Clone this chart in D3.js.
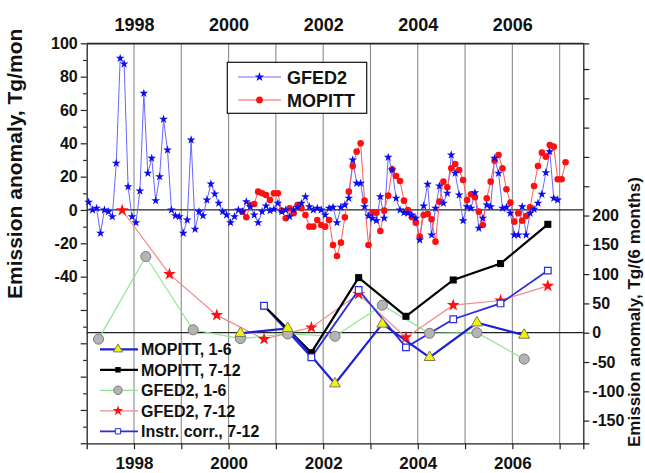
<!DOCTYPE html>
<html>
<head>
<meta charset="utf-8">
<script src="https://cdn.jsdelivr.net/npm/d3@7"></script>
<style>
  html, body { margin: 0; padding: 0; background: #fff; }
  svg { display: block; font-family: "Liberation Sans", Arial, sans-serif; }
</style>
</head>
<body>
<svg id="chart" width="645" height="473"></svg>
<script>
// Monthly emission anomalies, Tg/mon
const gfedStart = 1997;          // GFED2 monthly series starts Jan 1997
const gfedMonthly = [
  4.6, 0, 1, -14, 0, -1, -4, 28, 91, 87.6, 14, -4,
  -7.6, 11.4, 70, 22, 31, 5.6, 20, 54.4, 36, 0, -3.5, -4,
  -14, -6, 42, -11.6, -1, -3.5, 6, 15.6, 9.6, 4, -1, -3,
  -7.6, -4, 0, -1, 5, 2, -3, -7.6, -1, 2.4, -0.4, 0.4,
  4, -1, 0, -4, 0, 1.6, 4, 8, 2, 0, 1, 0,
  -3, 1, 1.6, -7.6, 1.6, 3, 7, 30, 16, 16, 2, -3.6,
  -5, -6.4, 8, -5, 31.6, 24, 7, 0, -1.6, -2, -3, -5,
  -18, 2.4, 15.4, -15, 1, 14.4, 4, 10, 33, 22, 9, -6.4,
  2, 1, 10.4, -11, -5, 3, 2, 31, 22, 1, 1.6, -2,
  -15, -15, 2, -15, -2, 0.4, 4, 9.4, 22.4, 35, 7, 6
];
const mopittStartMonth = 39;     // months after Jan 1997 (Apr 2000)
const mopittMonthly = [
  -1, -4.4, 3, 3.6, 11, 10, 9, 6, 10,
  10, -0.4, -5, 1, -2, 3, 1, -3, -10, -10, -6, -9,
  -10, -6, -21, -27.6, -19.6, -4.4, 11, 26.4, 35, 40, 5.6, -21,
  -1.6, -1.6, -12.6, -0.4, 8.6, 24.4, 20.4, 17.4, 5.6, 0, -4.4, -7.6,
  -16, -3, -2.4, -5.6, -19, 5, 17, 13.6, 25, 27.6, 24, 18,
  6, 9.4, 7.6, -1, -9, 7, 17, 29.6, 33, 25, 12.4, 4.4,
  -7, -2, -6.4, -3.6, 1.6, 14.4, 26.4, 34.4, 32, 39, 38, 18.4,
  18.4, 28.6
];

// Half-year totals, Tg/(6 months)
const gfedHalfYears = [1997, 1998, 1999, 2000, 2001, 2002, 2003, 2004, 2005, 2006];
const gfedJanJun = [-11, 130, 5, -10, -2, -6, 47, -1, 0, -45];
const gfedJulDec = [209, 100, 30, -11, 9, 66, -8, 47, 55, 80];
const mopittHalfYears = [2000, 2001, 2002, 2003, 2004, 2005, 2006];
const mopittJanJun = [-1, 7.5, -87, 15, -42, 17, -4];
const mopittJulDec = [46, -34, 94, 28, 90, 118, 185];
const instrCorrJulDec = [46, -42, 73, -25, 23, 50, 106];

// Axis ticks
const yearTicks = [1998, 1999, 2000, 2001, 2002, 2003, 2004, 2005, 2006, 2007];
const yearLabels = [1998, 2000, 2002, 2004, 2006];
const leftLabels = [100, 80, 60, 40, 20, 0, -20, -40];
const rightLabels = [200, 150, 100, 50, 0, -50, -100, -150];

const svg = d3.select("#chart");
const L = 86.7, R = 583.3, T = 43.3, B = 443.3;

const x = d3.scaleLinear().domain([1997, 2007.5]).range([L, R]);
const yL = d3.scaleLinear().domain([-140, 100]).range([B, T]);
const yR = d3.scaleLinear().domain([-188.7, 493.9]).range([B, T]);

const monthDate = i => gfedStart + (i + 0.5) / 12;

// vertical year grid
svg.append("g").selectAll("line").data(yearTicks).join("line")
  .attr("x1", d => x(d)).attr("x2", d => x(d))
  .attr("y1", T).attr("y2", B)
  .attr("stroke", "#8a8a8a").attr("stroke-width", 1.1);

// zero lines of both axes
svg.append("line").attr("x1", L).attr("x2", R).attr("y1", yL(0)).attr("y2", yL(0))
  .attr("stroke", "#222").attr("stroke-width", 1.3);
svg.append("line").attr("x1", L).attr("x2", R).attr("y1", yR(0)).attr("y2", yR(0))
  .attr("stroke", "#222").attr("stroke-width", 1.3);

// axes
const axisStyle = g => {
  g.select(".domain").attr("stroke", "#222").attr("stroke-width", 1.3);
  g.selectAll(".tick line").attr("stroke", "#222").attr("stroke-width", 1.2);
  g.selectAll("text").attr("fill", "#111").attr("font-weight", "bold");
};

const leftTicks = d3.range(-140, 101, 10);
svg.append("g").attr("transform", `translate(${L},0)`)
  .call(d3.axisLeft(yL).tickValues(leftTicks).tickSizeOuter(0)
    .tickFormat(d => leftLabels.includes(d) ? d : ""))
  .call(axisStyle)
  .call(g => {
    g.selectAll(".tick").each(function (d) {
      const major = d % 20 === 0;
      d3.select(this).select("line").attr("x2", major ? -6 : -3.5);
    });
    g.selectAll("text").attr("font-size", 16).attr("x", -9);
  });

const rightTicks = d3.range(-150, 451, 50);
svg.append("g").attr("transform", `translate(${R},0)`)
  .call(d3.axisRight(yR).tickValues(rightTicks).tickSizeOuter(0).tickSize(6)
    .tickFormat(d => rightLabels.includes(d) ? d : ""))
  .call(axisStyle)
  .call(g => g.selectAll("text").attr("font-size", 16).attr("x", 9));

svg.append("g").attr("transform", `translate(0,${B})`)
  .call(d3.axisBottom(x).tickValues(yearTicks).tickSizeOuter(0).tickSize(6)
    .tickFormat(d => yearLabels.includes(d) ? d : ""))
  .call(axisStyle)
  .call(g => g.selectAll("text").attr("font-size", 17).attr("dy", 0).attr("y", 25.5));

svg.append("g").attr("transform", `translate(0,${T})`)
  .call(d3.axisTop(x).tickValues(yearTicks).tickSizeOuter(0).tickSize(0)
    .tickFormat(d => yearLabels.includes(d) ? d : ""))
  .call(axisStyle)
  .call(g => g.selectAll("text").attr("font-size", 18).attr("y", -12));

// axis titles
svg.append("text")
  .attr("transform", "translate(22,299) rotate(-90)")
  .attr("font-size", 21).attr("font-weight", "bold").attr("fill", "#111")
  .text("Emission anomaly, Tg/mon");
svg.append("text")
  .attr("transform", "translate(640,447) rotate(-90)")
  .attr("font-size", 17).attr("font-weight", "bold").attr("fill", "#111")
  .text("Emission anomaly, Tg/(6 months)");

// ---- monthly series
const gfedPts = gfedMonthly.map((v, i) => [monthDate(i), v]);
const mopPts = mopittMonthly.map((v, i) => [monthDate(i + mopittStartMonth), v]);
const lineL = d3.line().x(d => x(d[0])).y(d => yL(d[1]));

svg.append("path").attr("d", lineL(gfedPts)).attr("fill", "none")
  .attr("stroke", "#6868ff").attr("stroke-width", 1);
svg.append("path").attr("d", lineL(mopPts)).attr("fill", "none")
  .attr("stroke", "#ff5a5a").attr("stroke-width", 1);

const star = s => d3.symbol(d3.symbolStar, s)();
const circ = s => d3.symbol(d3.symbolCircle, s)();
const tri = s => d3.symbol(d3.symbolTriangle, s)();
const sq = s => d3.symbol(d3.symbolSquare, s)();

svg.append("g").selectAll("path").data(mopPts).join("path")
  .attr("d", circ(34))
  .attr("transform", d => `translate(${x(d[0])},${yL(d[1])})`)
  .attr("fill", "#ff1010");
svg.append("g").selectAll("path").data(gfedPts).join("path")
  .attr("d", star(24))
  .attr("transform", d => `translate(${x(d[0])},${yL(d[1])})`)
  .attr("fill", "#0c0cf0");

// ---- half-year series (right axis)
const lineR = d3.line().x(d => x(d[0])).y(d => yR(d[1]));
const half = (years, vals, off) => vals.map((v, i) => [years[i] + off, v]);

const gH1 = half(gfedHalfYears, gfedJanJun, 0.25);
const gH2 = half(gfedHalfYears, gfedJulDec, 0.75);
const mH1 = half(mopittHalfYears, mopittJanJun, 0.25);
const mH2 = half(mopittHalfYears, mopittJulDec, 0.75);
const iH2 = half(mopittHalfYears, instrCorrJulDec, 0.75);

const drawLine = (pts, color, w) => svg.append("path").attr("d", lineR(pts))
  .attr("fill", "none").attr("stroke", color).attr("stroke-width", w);
const drawMarks = (pts, shape, fill, stroke, sw) => svg.append("g")
  .selectAll("path").data(pts).join("path")
  .attr("d", shape)
  .attr("transform", d => `translate(${x(d[0])},${yR(d[1])})`)
  .attr("fill", fill).attr("stroke", stroke).attr("stroke-width", sw);

drawLine(gH1, "#8fe58f", 1.2);
drawLine(gH2, "#f08a8a", 1.2);
drawLine(iH2, "#2b2be0", 1.8);
drawLine(mH2, "#000", 2.2);
drawLine(mH1, "#1f1fd6", 2.2);

drawMarks(gH1, circ(80), "#b4b4b4", "#7a7a7a", 1);
drawMarks(gH2, star(50), "#ff1010", "none", 0);
drawMarks(mH2, sq(50), "#000", "none", 0);
drawMarks(iH2, sq(44), "#fff", "#2b2be0", 1.2);
drawMarks(mH1, tri(52), "#f2f20a", "#7d7d55", 1);

// ---- legend: monthly series
const lg1 = svg.append("g");
lg1.append("rect").attr("x", 227.3).attr("y", 62.3).attr("width", 139.4).attr("height", 51)
  .attr("fill", "#fff").attr("stroke", "#111").attr("stroke-width", 1.2);
const leg1 = [
  { name: "GFED2", y: 77, color: "#6868ff", mark: star(28), fill: "#0c0cf0" },
  { name: "MOPITT", y: 100, color: "#ff5a5a", mark: circ(36), fill: "#ff1010" }
];
leg1.forEach(e => {
  lg1.append("line").attr("x1", 238).attr("x2", 281).attr("y1", e.y).attr("y2", e.y)
    .attr("stroke", e.color).attr("stroke-width", 1);
  lg1.append("path").attr("d", e.mark).attr("transform", `translate(259.5,${e.y})`)
    .attr("fill", e.fill);
  lg1.append("text").attr("x", 287).attr("y", e.y + 6.5)
    .attr("font-size", 18).attr("font-weight", "bold").attr("fill", "#111").text(e.name);
});

// ---- legend: half-year series
const lg2 = svg.append("g");
const leg2 = [
  { name: "MOPITT, 1-6", color: "#1f1fd6", w: 2.2, mark: tri(36), fill: "#f2f20a", stroke: "#7d7d55" },
  { name: "MOPITT, 7-12", color: "#000", w: 2.2, mark: sq(30), fill: "#000", stroke: "none" },
  { name: "GFED2, 1-6", color: "#8fe58f", w: 1.2, mark: circ(56), fill: "#b4b4b4", stroke: "#7a7a7a" },
  { name: "GFED2, 7-12", color: "#f08a8a", w: 1.2, mark: star(34), fill: "#ff1010", stroke: "none" },
  { name: "Instr. corr., 7-12", color: "#2b2be0", w: 1.8, mark: sq(28), fill: "#fff", stroke: "#2b2be0" }
];
leg2.forEach((e, i) => {
  const yy = 349.3 + i * 20.5;
  lg2.append("line").attr("x1", 100).attr("x2", 138).attr("y1", yy).attr("y2", yy)
    .attr("stroke", e.color).attr("stroke-width", e.w);
  lg2.append("path").attr("d", e.mark).attr("transform", `translate(118,${yy})`)
    .attr("fill", e.fill).attr("stroke", e.stroke).attr("stroke-width", 1);
  lg2.append("text").attr("x", 141).attr("y", yy + 6)
    .attr("font-size", 16).attr("font-weight", "bold").attr("fill", "#111").text(e.name);
});

// top frame line
svg.append("line").attr("x1", L).attr("x2", R).attr("y1", T).attr("y2", T)
  .attr("stroke", "#222").attr("stroke-width", 1.3);
</script>
</body>
</html>
